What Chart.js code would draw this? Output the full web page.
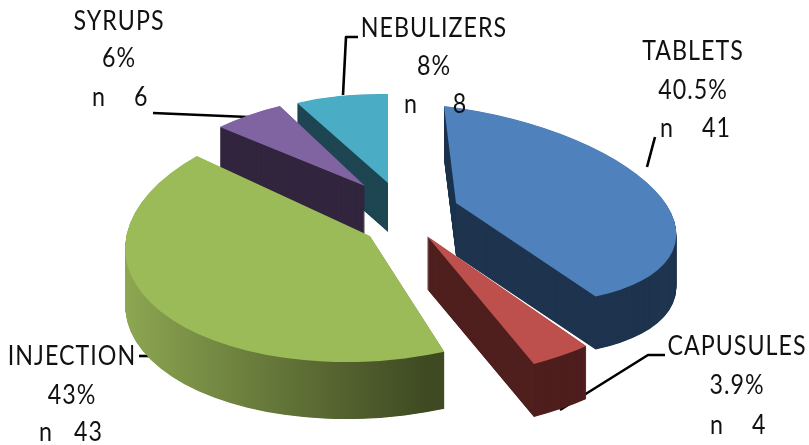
<!DOCTYPE html>
<html>
<head>
<meta charset="utf-8">
<style>html,body{margin:0;padding:0;background:#fff}canvas{display:block}</style>
<script src="https://cdn.jsdelivr.net/npm/chart.js@4/dist/chart.umd.min.js"></script>
</head>
<body>
<canvas id="c" width="809" height="445"></canvas>
<script>
const categories = ['TABLETS', 'CAPUSULES', 'INJECTION', 'SYRUPS', 'NEBULIZERS'];
const percents = [40.5, 3.9, 43, 6, 8];
const counts = [41, 4, 43, 6, 8];
const topColours = ['#4f81bd', '#bd504d', '#9bbb59', '#8064a2', '#4bacc6'];
const sideColours = ['#1f344f', '#4f1f1e', null, '#33263f', '#1e4552'];

// 3D pose of each slice: apex position, projected right / down axes, extrusion depth
const poses = [
  { a: [456, 203], mx: [220, 26], my: [12, 97], depth: 53 },
  { a: [427, 236], mx: [255, -6.5], my: [10.7, 141], depth: 53 },
  { a: [370, 236], mx: [244, -2], my: [-20, 126], depth: 57 },
  { a: [365, 186], mx: [200, 0.4], my: [-11.4, 90.6], depth: 50 },
  { a: [388, 183], mx: [191, 3.5], my: [0, 89], depth: 49 }
];
const drawOrder = [4, 3, 0, 2, 1];

const leaders = [
  [[647, 167], [655, 137]],
  [[560, 410], [648, 355], [665, 355]],
  [[139, 356], [153, 356]],
  [[153, 113], [248, 117]],
  [[343, 95], [346, 37], [358, 37]]
];
// label layout: x of centre, baselines, x of the count line, gap before the count
const labelLayout = [
  { x: 693, y: [60, 99, 137], nx: 660, gap: 4 },
  { x: 737, y: [355, 394, 434], nx: 710, gap: 4 },
  { x: 72, y: [365, 404, 441], nx: 39, gap: 3 },
  { x: 119, y: [30, 67, 106], nx: 92, gap: 4 },
  { x: 434, y: [37, 75, 113], nx: 404, gap: 5 }
];

function stretchedText(ctx, text, x, y) {
  ctx.save();
  ctx.translate(x, y);
  ctx.scale(0.86, 1);
  ctx.fillText(text, 0, 0);
  ctx.restore();
}

const pie3d = {
  id: 'pie3d',
  beforeDatasetDraw(chart, args) {
    const ctx = chart.ctx;
    const arcs = chart.getDatasetMeta(args.index).data;
    ctx.save();
    ctx.strokeStyle = '#000'; ctx.lineWidth = 2.6; ctx.lineJoin = 'round';
    leaders.forEach(l => {
      ctx.beginPath();
      l.forEach((p, i) => i ? ctx.lineTo(p[0], p[1]) : ctx.moveTo(p[0], p[1]));
      ctx.stroke();
    });
    ctx.restore();
    drawOrder.forEach(i => {
      const arc = arcs[i], p = poses[i];
      const R = arc.outerRadius, cx = arc.x, cy = arc.y;
      const base = arc.options;
      const paint = (shift, colour) => {
        ctx.save();
        ctx.translate(0, shift);
        ctx.transform(p.mx[0] / R, p.mx[1] / R, p.my[0] / R, p.my[1] / R, p.a[0], p.a[1]);
        ctx.translate(-cx, -cy);
        arc.options = Object.assign({}, base, { backgroundColor: colour, borderWidth: 0, offset: 0 });
        arc.draw(ctx);
        ctx.restore();
      };
      let side = sideColours[i];
      if (!side) {
        const x0 = cx + R * (123 - p.a[0]) / p.mx[0];
        const x1 = cx + R * (445 - p.a[0]) / p.mx[0];
        side = ctx.createLinearGradient(x0, 0, x1, 0);
        side.addColorStop(0, '#8fa953');
        side.addColorStop(1, '#3f4a22');
      }
      for (let d = p.depth; d > 0; d -= 0.5) paint(d, side);
      paint(0, topColours[i]);
      arc.options = base;
    });
    return false;
  },
  afterDraw(chart) {
    const ctx = chart.ctx;
    ctx.save();
    ctx.fillStyle = '#111';
    ctx.font = '27px Lato';
    ctx.letterSpacing = '1.2px';
    ctx.textBaseline = 'alphabetic';
    ctx.textAlign = 'center';
    categories.forEach((name, i) => {
      const l = labelLayout[i];
      stretchedText(ctx, name, l.x, l.y[0]);
      stretchedText(ctx, percents[i] + '%', l.x, l.y[1]);
    });
    ctx.textAlign = 'left';
    categories.forEach((name, i) => {
      const l = labelLayout[i];
      stretchedText(ctx, 'n' + ' '.repeat(l.gap) + counts[i], l.nx, l.y[2]);
    });
    ctx.restore();
  }
};

new Chart(document.getElementById('c'), {
  type: 'pie',
  data: {
    labels: categories,
    datasets: [{ data: percents, backgroundColor: topColours, borderWidth: 0 }]
  },
  options: {
    responsive: false,
    animation: false,
    rotation: 0,
    plugins: { legend: { display: false }, tooltip: { enabled: false } }
  },
  plugins: [pie3d]
});
</script>
</body>
</html>
